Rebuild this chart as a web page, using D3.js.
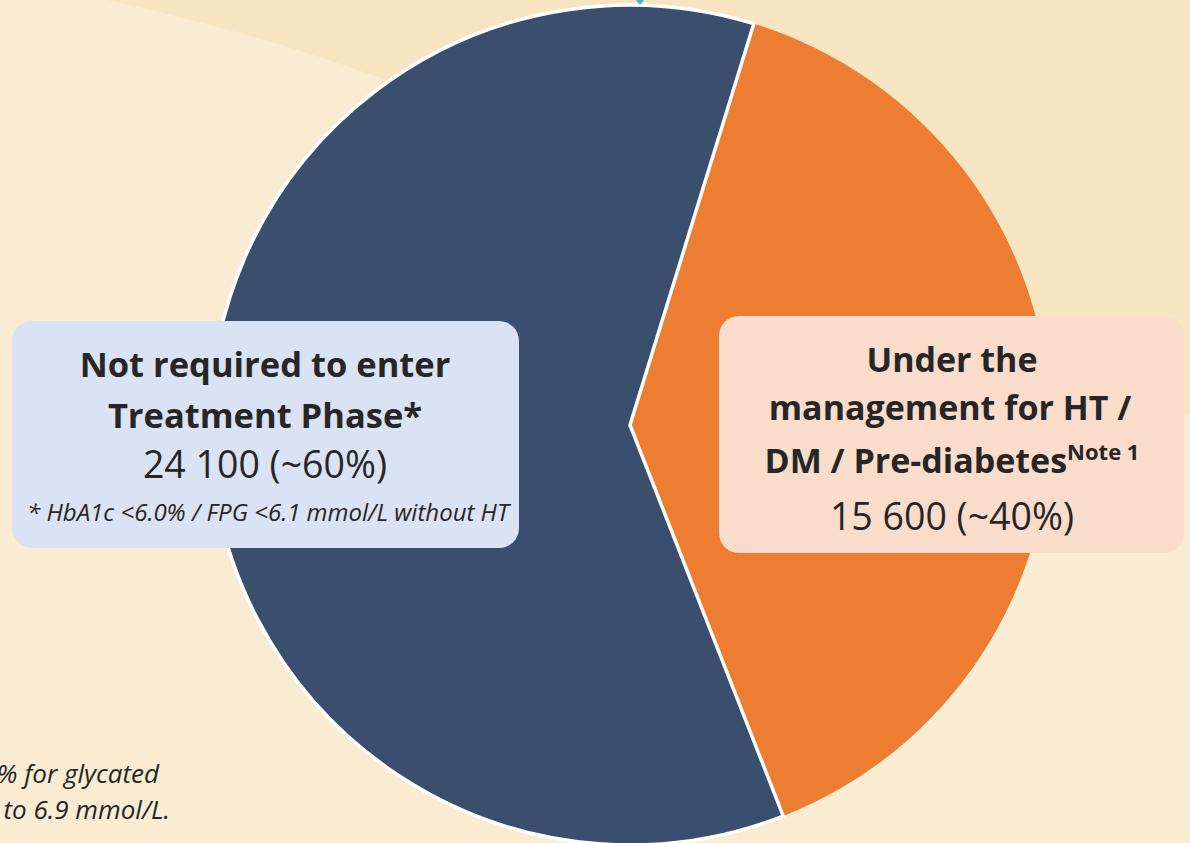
<!DOCTYPE html>
<html>
<head>
<meta charset="utf-8">
<script src="https://cdn.jsdelivr.net/npm/d3@7"></script>
<style>
  html, body { margin: 0; padding: 0; background: #faecd2; }
  svg { display: block; }
</style>
</head>
<body>
<div id="chart"></div>
<script>
// data
var categories = ["Not required to enter Treatment Phase", "Under the management for HT / DM / Pre-diabetes"];
var counts = [24100, 15600];
var shares = ["~60%", "~40%"];
var colors = ["#3a4e6d", "#ed7d31"];

var W = 1190, H = 843;
var cx = 630, cy = 425, R = 420;

var svg = d3.select("#chart")
    .append("svg")
    .attr("width", W)
    .attr("height", H);

// background
svg.append("rect")
    .attr("width", W).attr("height", H)
    .attr("fill", "#faecd2");

svg.append("path")
    .attr("d", "M107,0 C200,20 330,55 450,105 S1000,380 1190,414 L1190,0 Z")
    .attr("fill", "#f7e5c2");

// pie
var pie = d3.pie()
    .sort(null)
    .value(function(d) { return d; })
    .startAngle(158.6 * Math.PI / 180)
    .endAngle(158.6 * Math.PI / 180 + 2 * Math.PI);

var arc = d3.arc().innerRadius(0).outerRadius(R);

var arcs = pie(counts);

var g = svg.append("g")
    .attr("transform", "translate(" + cx + "," + cy + ")");

// orange first, the dark slice carries the white outline on top
g.selectAll(".slice")
    .data([arcs[1], arcs[0]])
  .enter().append("path")
    .attr("class", "slice")
    .attr("d", arc)
    .attr("fill", function(d) { return colors[d.index]; })
    .attr("stroke", function(d) { return d.index === 0 ? "#ffffff" : "none"; })
    .attr("stroke-width", 3.5)
    .attr("stroke-linejoin", "round");

// little teal marker at the top
svg.append("path")
    .attr("d", "M636,0 L644,0 L640,5 Z")
    .attr("fill", "#3fb7c9");

var fmt = d3.formatLocale({decimal: ".", thousands: " ", grouping: [3], currency: ["", ""]}).format(",");

var font = "'Open Sans', sans-serif";
var ink = "#262626";

// left label box
svg.append("rect")
    .attr("x", 12).attr("y", 321)
    .attr("width", 507).attr("height", 227)
    .attr("rx", 20)
    .attr("fill", "#dae3f3");

var lt = svg.append("g")
    .attr("font-family", font)
    .attr("fill", ink)
    .attr("text-anchor", "middle");

lt.append("text").attr("x", 265).attr("y", 377)
    .attr("font-size", 34.5).attr("font-weight", 700)
    .text("Not required to enter");
lt.append("text").attr("x", 265).attr("y", 428)
    .attr("font-size", 34.5).attr("font-weight", 700)
    .text("Treatment Phase*");
lt.append("text").attr("x", 265).attr("y", 478)
    .attr("font-size", 37.5)
    .text(fmt(counts[0]) + " (" + shares[0] + ")");
lt.append("text").attr("x", 268).attr("y", 521)
    .attr("font-size", 24).attr("font-style", "italic")
    .text("* HbA1c <6.0% / FPG <6.1 mmol/L without HT");

// right label box
svg.append("rect")
    .attr("x", 719).attr("y", 316)
    .attr("width", 465).attr("height", 237)
    .attr("rx", 20)
    .attr("fill", "#fadccb");

var rt = svg.append("g")
    .attr("font-family", font)
    .attr("fill", ink)
    .attr("text-anchor", "middle");

rt.append("text").attr("x", 952).attr("y", 372)
    .attr("font-size", 34).attr("font-weight", 700)
    .text("Under the");
rt.append("text").attr("x", 950).attr("y", 420)
    .attr("font-size", 34).attr("font-weight", 700)
    .text("management for HT /");
var l3 = rt.append("text").attr("x", 952).attr("y", 473)
    .attr("font-size", 34).attr("font-weight", 700);
l3.append("tspan").text("DM / Pre-diabetes");
l3.append("tspan").attr("font-size", 22).attr("dy", -13).text("Note 1");
rt.append("text").attr("x", 952).attr("y", 530)
    .attr("font-size", 37.5)
    .text(fmt(counts[1]) + " (" + shares[1] + ")");

// footnote at bottom left, cut by the left edge as in the source slide
var fn = svg.append("g")
    .attr("font-family", font)
    .attr("font-style", "italic")
    .attr("font-size", 26)
    .attr("fill", ink)
    .attr("text-anchor", "end");
fn.append("text").attr("x", 159).attr("y", 783).text("% for glycated");
fn.append("text").attr("x", 170).attr("y", 819).text("to 6.9 mmol/L.");
</script>
</body>
</html>
